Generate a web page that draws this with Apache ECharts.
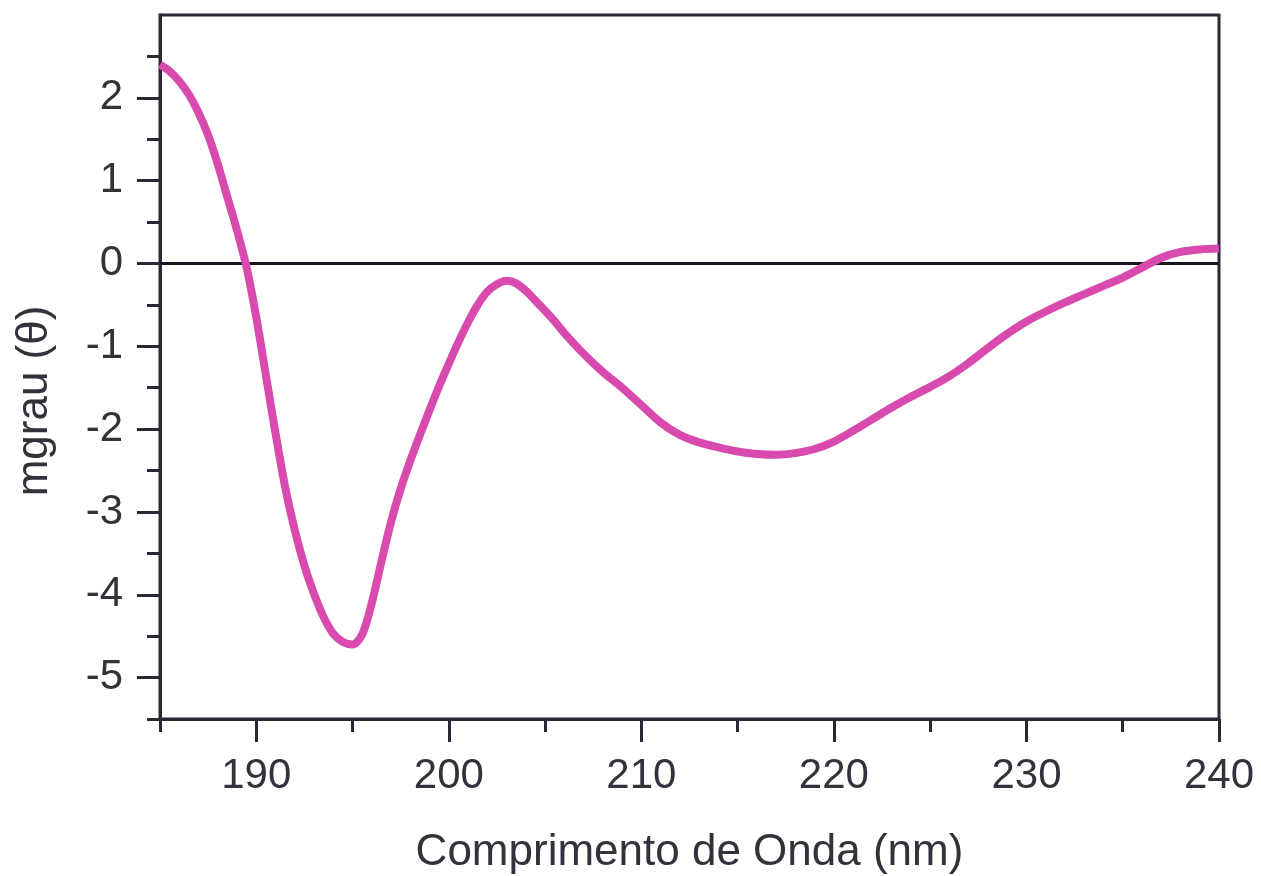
<!DOCTYPE html>
<html><head><meta charset="utf-8">
<script src="https://cdn.jsdelivr.net/npm/echarts@6/dist/echarts.min.js"></script>
<style>html,body{margin:0;padding:0;background:#fff}#c{width:1261px;height:876px}</style>
</head><body><div id="c"></div>
<script>
const wavelength = [185.0,185.5,186.0,186.5,187.0,187.5,188.0,188.5,189.0,189.5,190.0,190.5,191.0,191.5,192.0,192.5,193.0,193.5,194.0,194.5,195.0,195.5,196.0,196.5,197.0,197.5,198.0,198.5,199.0,199.5,200.0,200.5,201.0,201.5,202.0,202.5,203.0,203.5,204.0,204.5,205.0,205.5,206.0,207,208,209,210,211,212,213,214,215,216,217,218,219,220,221,222,223,224,225,226,227,228,229,230,231,232,233,234,235,236,237,238,239,240];
const mdeg = [2.40,2.32,2.20,2.04,1.82,1.55,1.20,0.80,0.40,-0.05,-0.65,-1.35,-2.05,-2.70,-3.22,-3.65,-3.99,-4.27,-4.47,-4.57,-4.60,-4.48,-4.10,-3.60,-3.12,-2.72,-2.38,-2.07,-1.77,-1.48,-1.21,-0.95,-0.71,-0.50,-0.34,-0.25,-0.21,-0.24,-0.33,-0.45,-0.57,-0.70,-0.84,-1.09,-1.31,-1.50,-1.71,-1.92,-2.07,-2.16,-2.22,-2.27,-2.30,-2.31,-2.29,-2.24,-2.15,-2.02,-1.88,-1.74,-1.61,-1.49,-1.36,-1.20,-1.02,-0.85,-0.70,-0.58,-0.47,-0.37,-0.27,-0.17,-0.05,0.07,0.14,0.17,0.18];
const xLabelValues = [190,200,210,220,230,240];
const xMinorTickValues = [185,195,205,215,225,235];
const yLabelValues = [-5,-4,-3,-2,-1,0,1,2];
const yMinorTickValues = [-5.5,-4.5,-3.5,-2.5,-1.5,-0.5,0.5,1.5,2.5];
const zeroLine = [[185,0],[240,0]];
const xTitle = 'Comprimento de Onda (nm)';
const yTitle = 'mgrau (\u03B8)';

const AX = '#2b2733';
const TXT = '#35303a';
const FONT = '"Liberation Sans", Arial, sans-serif';

const chart = echarts.init(document.getElementById('c'), null, {renderer:'canvas'});
const xBase = {type:'value', min:185, max:240, position:'bottom', splitLine:{show:false}};
const yBase = {type:'value', min:-5.5, max:3, position:'left', splitLine:{show:false}};
chart.setOption({
  animation:false,
  backgroundColor:'#ffffff',
  grid:{left:160, right:42, top:15, bottom:157, containLabel:false, outerBoundsMode:'none',
        show:true, borderColor:AX, borderWidth:3, backgroundColor:'transparent'},
  xAxis:[
    Object.assign({}, xBase, {
      axisLine:{show:true, onZero:false, lineStyle:{color:AX, width:3}},
      axisTick:{show:true, customValues:xLabelValues, length:23, lineStyle:{color:AX, width:3}},
      axisLabel:{show:true, customValues:xLabelValues, color:TXT, fontSize:42, fontFamily:FONT, margin:36},
      name:xTitle, nameLocation:'middle', nameGap:112,
      nameTextStyle:{color:TXT, fontSize:44, fontFamily:FONT}
    }),
    Object.assign({}, xBase, {
      axisLine:{show:false, onZero:false},
      axisTick:{show:true, customValues:xMinorTickValues, length:13, lineStyle:{color:AX, width:3}},
      axisLabel:{show:false}
    })
  ],
  yAxis:[
    Object.assign({}, yBase, {
      axisLine:{show:true, onZero:false, lineStyle:{color:AX, width:3}},
      axisTick:{show:true, customValues:yLabelValues, length:23, lineStyle:{color:AX, width:3}},
      axisLabel:{show:true, customValues:yLabelValues, color:TXT, fontSize:42, fontFamily:FONT, margin:37},
      name:yTitle, nameLocation:'middle', nameGap:103,
      nameTextStyle:{color:TXT, fontSize:44, fontFamily:FONT, padding:[0,68,0,0]}
    }),
    Object.assign({}, yBase, {
      axisLine:{show:false, onZero:false},
      axisTick:{show:true, customValues:yMinorTickValues, length:13, lineStyle:{color:AX, width:3}},
      axisLabel:{show:false}
    })
  ],
  series:[
    {type:'line', xAxisIndex:0, yAxisIndex:0, data:zeroLine, showSymbol:false, silent:true, z:2,
     lineStyle:{color:'#1a1620', width:3}},
    {type:'line', xAxisIndex:0, yAxisIndex:0, data:wavelength.map((w,i)=>[w, mdeg[i]]),
     showSymbol:false, smooth:0.3, z:3, clip:true,
     lineStyle:{color:'#D94AAE', width:8}}
  ]
});
</script></body></html>
